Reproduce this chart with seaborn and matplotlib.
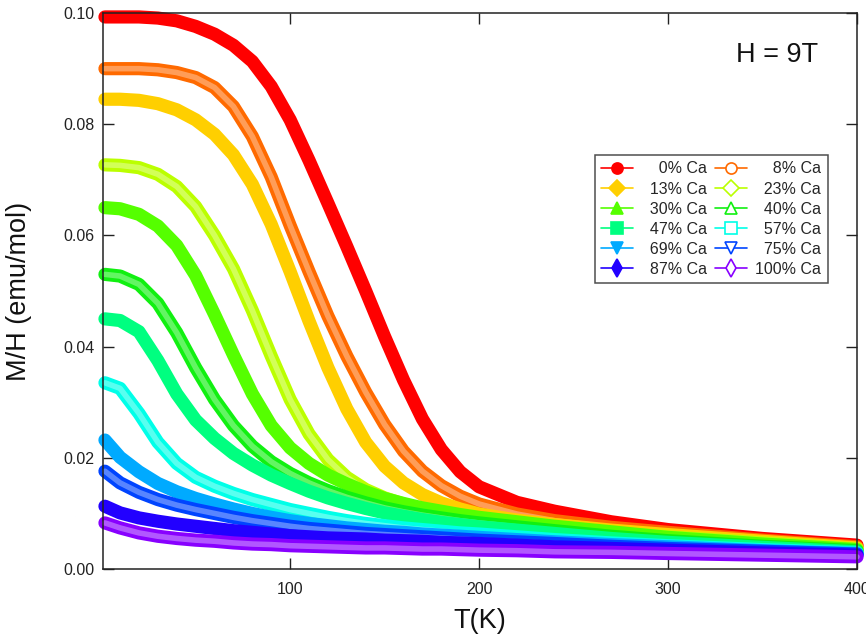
import numpy as np
import pandas as pd
import matplotlib
matplotlib.use("Agg")
import matplotlib.pyplot as plt
from matplotlib.lines import Line2D
import seaborn as sns

# --- data (T in K, M/H in emu/mol) ---
temps = [2, 10, 20, 30, 40, 50, 60, 70, 80, 90, 100, 110, 120, 130, 140,
         150, 160, 170, 180, 190, 200, 220, 240, 270, 300, 350, 400]

ca_labels = ["0% Ca", "8% Ca", "13% Ca", "23% Ca", "30% Ca", "40% Ca",
             "47% Ca", "57% Ca", "69% Ca", "75% Ca", "87% Ca", "100% Ca"]

mh_0 = [.0993, .0993, .0993, .0991, .0986, .0976, .0962, .0942, .0913, .0868, .0808, .0735, .0658, .0580,
        .0500, .0418, .0340, .0270, .0215, .0175, .0148, .0120, .0104, .0085, .0071, .0055, .0043]
mh_8 = [.0900, .0900, .0900, .0898, .0893, .0884, .0866, .0832, .0778, .0705, .0618, .0535, .0455, .0383,
        .0318, .0260, .0212, .0176, .0150, .0131, .0117, .0099, .0087, .0075, .0066, .0052, .0040]
mh_13 = [.0845, .0845, .0843, .0837, .0826, .0808, .0782, .0745, .0692, .0620, .0535, .0446, .0362, .0288,
         .0228, .0185, .0155, .0134, .0119, .0108, .0099, .0088, .0080, .0070, .0062, .0050, .0038]
mh_23 = [.0727, .0726, .0722, .0710, .0688, .0652, .0600, .0540, .0465, .0383, .0305, .0243, .0197, .0165,
         .0143, .0128, .0117, .0108, .0101, .0095, .0090, .0082, .0074, .0065, .0058, .0047, .0036]
mh_30 = [.0650, .0648, .0638, .0617, .0582, .0528, .0458, .0385, .0315, .0258, .0218, .0190, .0169, .0153,
         .0139, .0127, .0118, .0110, .0104, .0098, .0093, .0085, .0077, .0067, .0057, .0045, .0035]
mh_40 = [.0530, .0527, .0512, .0478, .0425, .0362, .0305, .0258, .0221, .0193, .0172, .0155, .0141, .0129,
         .0119, .0110, .0103, .0097, .0092, .0087, .0083, .0076, .0069, .0059, .0051, .0041, .0033]
mh_47 = [.0450, .0447, .0427, .0375, .0315, .0268, .0235, .0208, .0187, .0169, .0154, .0140, .0128, .0118,
         .0109, .0101, .0095, .0089, .0084, .0080, .0076, .0070, .0064, .0055, .0048, .0039, .0031]
mh_57 = [.0335, .0325, .0280, .0228, .0190, .0165, .0149, .0136, .0125, .0116, .0107, .0100, .0093, .0087,
         .0082, .0078, .0074, .0071, .0068, .0065, .0063, .0058, .0053, .0047, .0042, .0035, .0029]
mh_69 = [.0232, .0201, .0175, .0154, .0139, .0127, .0117, .0108, .0100, .0093, .0087, .0082, .0078, .0074,
         .0071, .0068, .0066, .0063, .0061, .0059, .0057, .0053, .0049, .0044, .0040, .0033, .0028]
mh_75 = [.0176, .0155, .0138, .0125, .0115, .0107, .0100, .0093, .0087, .0082, .0077, .0073, .0070, .0067,
         .0064, .0062, .0060, .0058, .0056, .0054, .0052, .0049, .0046, .0041, .0037, .0032, .0027]
mh_87 = [.0113, .0101, .0092, .0086, .0081, .0077, .0073, .0069, .0066, .0063, .0060, .0058, .0056, .0055,
         .0054, .0052, .0051, .0050, .0048, .0047, .0046, .0043, .0040, .0037, .0034, .0029, .0025]
mh_100 = [.0083, .0074, .0065, .0059, .0055, .0052, .0050, .0047, .0045, .0044, .0042, .0041, .0040, .0039,
          .0038, .0038, .0037, .0036, .0036, .0035, .0034, .0033, .0031, .0030, .0028, .0025, .0022]

all_mh = [mh_0, mh_8, mh_13, mh_23, mh_30, mh_40, mh_47, mh_57, mh_69, mh_75, mh_87, mh_100]

colors = ["#ff0000", "#ff6a00", "#ffcf00", "#bbff00", "#55ff00", "#11f011",
          "#00ff80", "#00ffe8", "#00aaff", "#0044ff", "#2200ff", "#8800ff"]
markers = ["o", "o", "D", "D", "^", "^", "s", "s", "v", "v", "d", "d"]
hollow = [False, True] * 6

# long table for seaborn
df = pd.DataFrame({
    "T": np.tile(temps, len(ca_labels)),
    "MH": np.concatenate(all_mh),
    "sample": np.repeat(ca_labels, len(temps)),
})

sns.set_style("ticks")
plt.rcParams["font.family"] = ["Liberation Sans", "DejaVu Sans"]

fig = plt.figure(figsize=(8.66, 6.43), dpi=100)
ax = fig.add_axes([0.119, 0.115, 0.8706, 0.8647])

for lab, col, hol in zip(ca_labels, colors, hollow):
    sub = df[df["sample"] == lab]
    sns.lineplot(data=sub, x="T", y="MH", color=col, linewidth=9.5,
                 ax=ax, legend=False, sort=False, clip_on=False,
                 solid_capstyle="round", solid_joinstyle="round")
    if hol:
        # lighter core to suggest the band of open markers
        sns.lineplot(data=sub, x="T", y="MH", color="white", linewidth=4,
                     alpha=0.35, ax=ax, legend=False, sort=False, clip_on=False,
                     solid_capstyle="round", solid_joinstyle="round")

ax.set_xlim(1, 400)
ax.set_ylim(0, 0.10)
ax.set_xticks([100, 200, 300, 400])
ax.set_yticks([0.0, 0.02, 0.04, 0.06, 0.08, 0.10])
ax.yaxis.set_major_formatter(matplotlib.ticker.FormatStrFormatter("%.2f"))
ax.tick_params(direction="in", length=8, width=1, top=True, right=True,
               labelsize=11.5, colors="#222222", pad=6)
ax.tick_params(axis="x", pad=9)
for sp in ax.spines.values():
    sp.set_visible(True)
    sp.set_linewidth(1.1)
    sp.set_color("#222222")

ax.set_xlabel("T(K)", fontsize=19.5, color="#111111", labelpad=8)
ax.set_ylabel("M/H (emu/mol)", fontsize=19.5, color="#111111")
ax.yaxis.set_label_coords(-0.094, 0.5)

ax.text(0.894, 0.924, "H = 9T", transform=ax.transAxes, fontsize=19.5,
        ha="center", va="center", color="#111111")

# legend: two columns, labels right aligned with figure spaces
handles = []
for lab, col, mk, hol in zip(ca_labels, colors, markers, hollow):
    pad = "\u2007" * (7 - len(lab))
    h = Line2D([0], [0], color=col, lw=1.2, marker=mk, markersize=8 if mk != "d" else 9,
               markerfacecolor="white" if hol else col, markeredgecolor=col,
               markeredgewidth=1.2, label=pad + lab)
    handles.append(h)
order = list(range(0, 12, 2)) + list(range(1, 12, 2))
leg = ax.legend(handles=[handles[i] for i in order], ncol=2, loc="upper left",
                bbox_to_anchor=(0.6525, 0.7446), borderaxespad=0, fontsize=11.5,
                frameon=True, fancybox=False, edgecolor="#222222",
                handlelength=2.0, handletextpad=0.5, columnspacing=0.5,
                labelspacing=0.32, borderpad=0.4)
leg.get_frame().set_linewidth(1.1)

fig.savefig("out.png", dpi=100)
